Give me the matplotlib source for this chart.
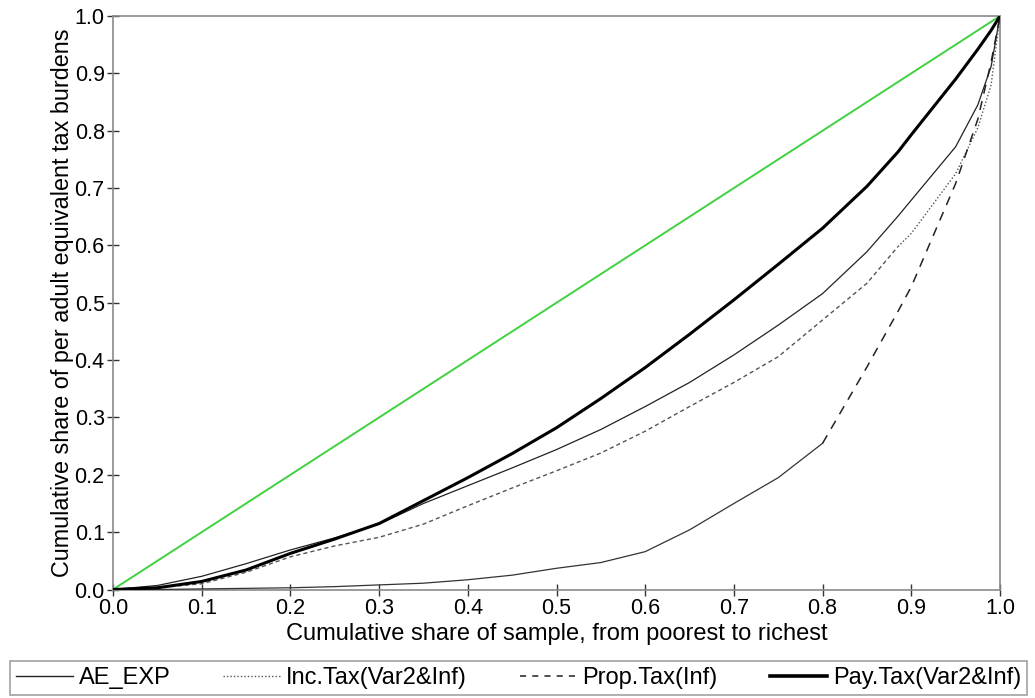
import numpy as np
import matplotlib.pyplot as plt
from matplotlib.lines import Line2D

plt.rcParams.update({
    "font.family": ["Liberation Sans", "DejaVu Sans"],
    "font.size": 15,
})

# Cumulative share of sample (poorest -> richest)
share = [0, .05, .1, .15, .2, .25, .3, .35, .4, .45, .5, .55, .6, .65, .7,
         .75, .8, .85, .885, .9, .95, .975, .99, 1.0]

# Concentration curves
ae_exp = [0, .007, .023, .045, .069, .090, .114, .150, .181, .212, .244, .279,
          .319, .361, .409, .461, .516, .589, .651, .679, .772, .845, .912, 1.0]
inc_tax = [0, .003, .010, .030, .057, .076, .091, .114, .146, .177, .207, .238,
           .276, .319, .361, .406, .470, .534, .598, .621, .725, .805, .880, 1.0]
prop_tax = [0, .000, .001, .002, .003, .005, .008, .011, .017, .025, .037, .047,
            .066, .104, .150, .195, .255, .388, .485, .528, .708, .820, .920, 1.0]
pay_tax = [0, .003, .014, .034, .063, .088, .115, .155, .195, .237, .282, .333,
           .387, .445, .505, .567, .630, .703, .763, .793, .890, .942, .975, 1.0]

labels = ["AE_EXP", "Inc.Tax(Var2&Inf)", "Prop.Tax(Inf)", "Pay.Tax(Var2&Inf)"]

x = np.array(share)
green = (0.25, 0.82, 0.25)
spine_col = "#8a8a8a"

fig = plt.figure(figsize=(10.35, 6.98), dpi=100)
ax = fig.add_axes([113/1035, 108.5/698, 887/1035, 573.5/698])

# line of equality
ax.plot([0, 1], [0, 1], color=green, lw=1.4, zorder=2)

ax.plot(x, ae_exp, color="#222222", lw=0.9, zorder=3)

# Inc.Tax: short dashes, turning into fine dots near the top
k = share.index(.885)
ax.plot(x[:k+1], np.array(inc_tax)[:k+1], color="#555555", lw=1.0,
        ls=(0, (3, 2.2)), zorder=3)
ax.plot(x[k:], np.array(inc_tax)[k:], color="#555555", lw=1.0,
        ls=(0, (1, 1.5)), zorder=3)

# Prop.Tax: dense points look solid, long last stretch shows dashes
m = share.index(.8)
ax.plot(x[:m+1], np.array(prop_tax)[:m+1], color="#333333", lw=0.9, zorder=3)
ax.plot(x[m:], np.array(prop_tax)[m:], color="#222222", lw=1.1,
        ls=(0, (6, 5)), zorder=3)

ax.plot(x, pay_tax, color="black", lw=2.2, zorder=4)

# Axes configuration
ax.set_xlim(0, 1)
ax.set_ylim(0, 1)
ticks = np.round(np.arange(0, 1.01, 0.1), 1)
ax.set_xticks(ticks)
ax.set_yticks(ticks)
ax.set_xticklabels([f"{t:.1f}" for t in ticks])
ax.set_yticklabels([f"{t:.1f}" for t in ticks])
ax.tick_params(direction="inout", length=8, width=1, color="#333333",
               labelsize=15.5, pad=2)
for s in ax.spines.values():
    s.set_color(spine_col)
    s.set_linewidth(1.2)

ax.set_xlabel("Cumulative share of sample, from poorest to richest",
              fontsize=17, labelpad=3)
ax.set_ylabel("Cumulative share of per adult equivalent tax burdens",
              fontsize=16.8, labelpad=0)

# Legend
handles = [
    Line2D([], [], color="#222222", lw=1.0),
    Line2D([], [], color="#555555", lw=1.0, ls=(0, (1, 1.5))),
    Line2D([], [], color="#222222", lw=1.1, ls=(0, (4, 4))),
    Line2D([], [], color="black", lw=2.6),
]
leg = fig.legend(handles, labels, ncol=4, mode="expand",
                 bbox_to_anchor=(10/1035, 3/698, 1017/1035, 39/698),
                 loc="lower left", frameon=True, fancybox=False,
                 borderaxespad=0, handlelength=2.4, handletextpad=0.25,
                 fontsize=17, borderpad=0.25)
leg.get_frame().set_edgecolor(spine_col)
leg.get_frame().set_linewidth(1.2)

fig.savefig("out.png", dpi=100)
